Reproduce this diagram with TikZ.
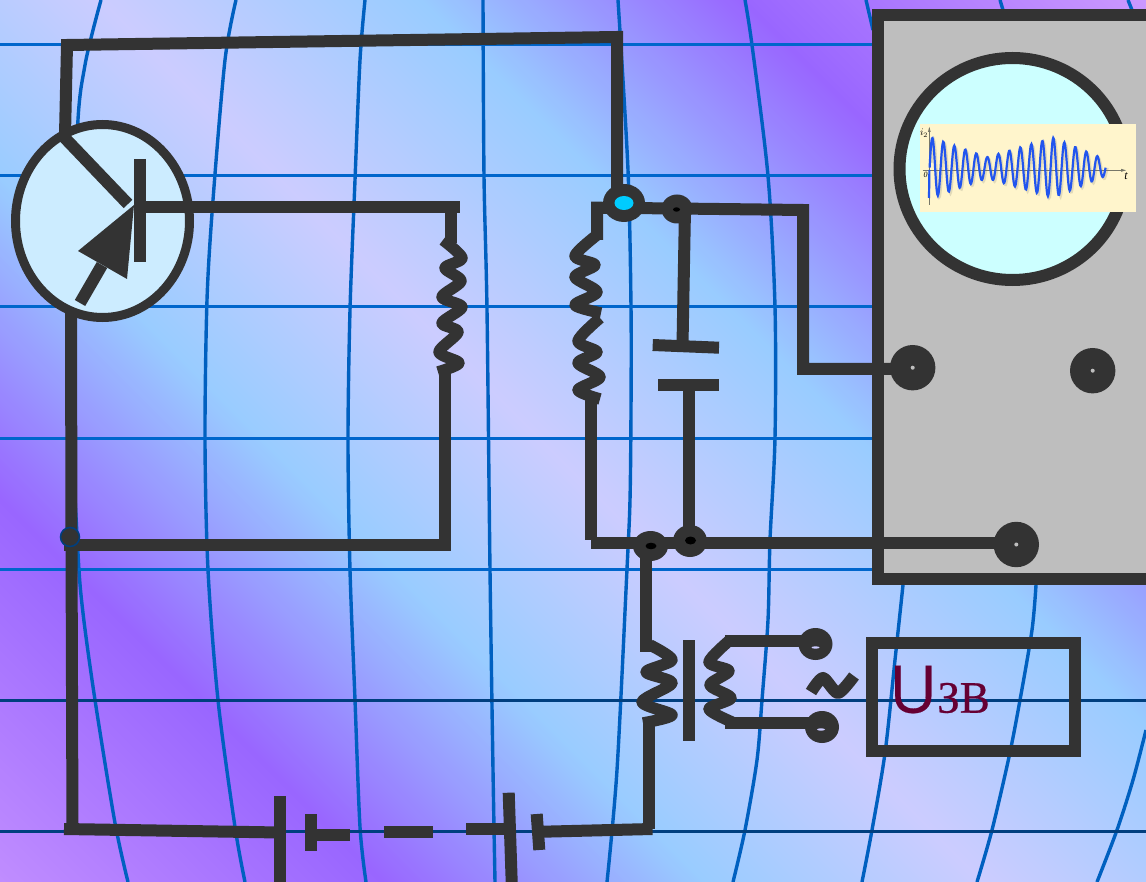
\documentclass[tikz,border=0pt]{standalone}
\usepackage{fontspec}
\setmainfont{Liberation Serif}
\newfontfamily\ufont[FakeBold=0.25]{Open Sans}
\newfontfamily\zfont[FakeBold=0.5]{Liberation Serif}
\definecolor{ink}{HTML}{333333}
\definecolor{gridblue}{HTML}{0066CC}
\definecolor{griddark}{HTML}{003F7F}
\definecolor{gridmid}{HTML}{0060C0}
\definecolor{bgpink}{HTML}{CC99FF}
\definecolor{bgpurple}{HTML}{9966FF}
\definecolor{bgsky}{HTML}{99CCFF}
\definecolor{bglav}{HTML}{CCCCFF}
\definecolor{panel}{HTML}{BEBEBE}
\definecolor{screen}{HTML}{CCFFFF}
\definecolor{tubefill}{HTML}{CCECFF}
\definecolor{chartbg}{HTML}{FFF5CC}
\definecolor{chartshadow}{HTML}{E2DAB8}
\definecolor{chartaxis}{HTML}{777768}
\definecolor{trace}{HTML}{2255EE}
\definecolor{labelc}{HTML}{660033}
\definecolor{hotcyan}{HTML}{00CCFF}
\newcommand{\bgband}[4]{%
  \pgfmathtruncatemacro\nextu{#1+3}%
  \foreach \u in {#1,\nextu,...,#2}{%
    \pgfmathsetmacro\pct{100*((\u-#1)/(#2-#1))}%
    \fill[#4!\pct!#3] (\u,0) -- ++(5,0) -- ++(882,882) -- ++(-5,0) -- cycle;}}
\tikzset{
  wire/.style={draw=ink,line width=12pt,line cap=butt,line join=miter},
  coilw/.style={draw=ink,line width=11.5pt,line cap=butt,line join=round},
  dot/.style={fill=ink},
  gridh/.style={draw=gridblue,line width=3pt},
  gridd/.style={draw=griddark,line width=3pt},
  gridv/.style={draw=gridmid,line width=3.4pt},
}
\begin{document}
\begin{tikzpicture}[x=1pt,y=-1pt]
\useasboundingbox (0,0) rectangle (1146,882);
\clip (0,0) rectangle (1146,882);
% background
\bgband{-1000}{-500}{bgpink}{bgpurple}
\bgband{-500}{-180}{bgpurple}{bgsky}
\bgband{-180}{100}{bgsky}{bglav}
\bgband{100}{420}{bglav}{bgsky}
\bgband{420}{740}{bgsky}{bgpurple}
\bgband{740}{1150}{bgpurple}{bgpink}
% grid
\draw[gridv] plot[smooth] coordinates {(101,0) (85,65) (77,140) (72,400) (78,553) (83,613) (95,700) (115,823) (128,882)};
\draw[gridv] plot[smooth] coordinates {(236,0) (225,60) (213,200) (207,300) (205,440) (208,570) (218,700) (235,827) (245,882)};
\draw[gridv] plot[smooth] coordinates {(365,0) (360,60) (355,180) (350,310) (348,440) (350,570) (355,700) (360,827) (366,882)};
\draw[gridv] plot[smooth] coordinates {(483,0) (484,176) (487,310) (490,570) (493,770) (495,882)};
\draw[gridv] plot[smooth] coordinates {(618,0) (628,170) (631,307) (631,410) (630,500) (627,569) (617,770) (607,882)};
\draw[gridv] plot[smooth] coordinates {(745,0) (752,45) (768,176) (775,307) (775,438) (770,540) (768,620) (762,700) (757,760) (745,830) (733,882)};
\draw[gridv] plot[smooth] coordinates {(903,585) (895,660) (885,753) (872,830) (862,882)};
\draw[gridv] (866,0) -- (873,30);
\draw[gridv] plot[smooth] coordinates {(1036,585) (1032,630) (1020,700) (1009,757) (992,830) (977,882)};
\draw[gridv] (1000,0) -- (1003,10);
\draw[gridv] plot[smooth] coordinates {(1146,730) (1133,780) (1117,830) (1097,882)};
\draw[gridv] (1128,0) -- (1132,10);
\foreach \y in {45,176,307,438,569} \draw[gridh] (0,\y) -- (1146,\y);
\foreach \y in {700,831} \draw[gridd] (0,\y) -- (1146,\y);

% oscilloscope
\draw[wire,fill=panel] (878,15.5) rectangle (1155,579);
\draw[draw=ink,line width=12pt,fill=screen] (1012.5,169) ellipse [x radius=113,y radius=111];
\fill[chartbg] (920,124) rectangle (1136,212);
% chart
\draw[chartshadow,line width=2.2pt] plot[smooth,domain=930:1106,samples=300] ({\x+1.6},{169.7-(\x<987?30-(\x-932)*19.5/55:(\x<1053?10.5+(\x-987)*19.5/66:30-(\x-1053)*22/53))*sin(32.72727*(\x-929.6))});
\draw[chartaxis,line width=.7pt] (922.7,170.3) -- (1124,170.3);
\draw[chartaxis,line width=.7pt] (929.3,205) -- (929.3,128);
\fill[chartaxis] (1126,170.3) -- (1121,168.8) -- (1121,171.8) -- cycle;
\fill[chartaxis] (929.3,127) -- (927.9,132) -- (930.7,132) -- cycle;
\draw[trace,line width=2.2pt] (929,198) -- (929.4,170) plot[smooth,domain=929.6:1105.6,samples=300] (\x,{167.7-(\x<987?30-(\x-932)*19.5/55:(\x<1053?10.5+(\x-987)*19.5/66:30-(\x-1053)*22/53))*sin(32.72727*(\x-929.6))});
\node[inner sep=0,font=\fontsize{10}{11}\selectfont] (chartI) at (924,133) {$i_2$};
\node[inner sep=0,font=\fontsize{8}{9}\selectfont\itshape] (chartZero) at (925.5,175) {0};
\node[inner sep=0,font=\fontsize{12}{13}\selectfont\itshape] (chartT) at (1126,176) {t};

% junction coordinates
\coordinate (tc) at (624,203);
\coordinate (tr) at (677,209);
\coordinate (bl) at (650.5,546);
\coordinate (br) at (690,541);
\coordinate (k1) at (912.7,367.7);
\coordinate (k1w) at (912.7,369);
\coordinate (k2) at (1092.7,370.7);
\coordinate (k3) at (1016.3,544.5);
\coordinate (k3w) at (1016.3,543);
\coordinate (ta) at (815.5,640.7);
\coordinate (tb) at (822,722.7);

% wires
\draw[wire] (65,135) -- (67,45) -- (617,37) -- (617,195);
\draw[wire] (71,312) -- (71.5,540) -- (72.5,832);
\draw[wire] (64,829) -- (280,832.5);
\draw[wire] (64,545) -- (451,545);
\draw[wire] (134,207) -- (460,207);
\draw[wire] (451,207) -- (451,243);
\draw[wire] (445,368) -- (445,539);
\draw[wire] (597,240) -- (597,207.7) -- (677,208.5) -- (803,210) -- (803,369) -- (k1w);
\draw[wire] (591,400) -- (591,540);
\draw[wire] (591,543) -- (k3w);
\draw[wire] (685,209) -- (682.5,345);
\draw[wire] (689,385) -- (689,541);
\draw[wire] (646,546) -- (646,652);
\draw[wire] (649,720) -- (649,829);
\draw[wire] (311,835) -- (350,835);
\draw[wire] (384,832) -- (433,832);
\draw[wire] (466,829) -- (509,829);
\draw[wire] (543,831.7) -- (652.5,829);
\draw[wire] (725,640.7) -- (ta);
\draw[wire] (725,722.7) -- (tb);
% plates
\draw[wire] (280,796) -- (280,882);
\draw[wire] (311,814) -- (311,851);
\draw[wire] (508.7,792.7) -- (511.7,882);
\draw[wire] (536.7,814) -- (539.3,850);
\draw[wire] (652.7,345) -- (719,347.7);
\draw[wire] (658,384.8) -- (719,384.8);
\draw[wire] (688.7,640) -- (688.7,741);
% coils
\draw[coilw] plot[smooth] coordinates {(443,240) (462,258) (445,268) (461,281) (442,297) (462,307) (442,323) (458,332) (439,352) (459,363) (438,372)};
\draw[coilw] plot[smooth] coordinates {(597,235) (575,256) (595,265) (575,277) (597,292) (575,305) (601,313)};
\draw[coilw] plot[smooth] coordinates {(600,318) (578,341) (597,352) (578,363) (600,377) (578,390) (600,399)};
\draw[coilw] plot[smooth] coordinates {(650,645) (672,660) (646,672) (672,683) (642,702) (672,715) (643,723)};
\draw[coilw] plot[smooth] coordinates {(730,640) (709,662) (729,671) (710,685) (731,698) (709,709) (732,722)};
\draw[coilw,line width=12pt] plot[smooth,tension=.45] coordinates {(811,692) (823,678) (838,693) (854,676)};

% transistor
\draw[draw=ink,line width=9pt,fill=tubefill] (102.5,221) ellipse [x radius=87,y radius=96.5];
\draw[wire] (62,135) -- (128,204);
\draw[wire] (140,159) -- (140,262);
\draw[wire] (134,207) -- (190,207);
\fill[ink] (134,205) -- (78,251) -- (127,279) -- cycle;
\draw[wire] (80,303) -- (102,265);

% junction dots
\path[dot] (tc) ellipse [x radius=21,y radius=19];
\fill[hotcyan] (tc) ellipse [x radius=9.5,y radius=7];
\path[dot] (tr) ellipse [x radius=15.5,y radius=14.5];
\fill[black] (676.5,209.5) ellipse [x radius=3.5,y radius=2.2];
\path[dot] (bl) ellipse [x radius=17.5,y radius=15];
\fill[black] (651,546) ellipse [x radius=5.5,y radius=3.3];
\path[dot] (br) ellipse [x radius=17,y radius=16];
\fill[black] (690.5,540.5) ellipse [x radius=5.5,y radius=4];
\draw[griddark,line width=1.5pt,fill=ink] (70,537) circle [radius=9.5];
% scope knobs
\foreach \k in {k1,k2,k3}{
  \path[dot] (\k) circle [radius=22.7];
  \fill[panel] (\k) circle [radius=2];}
% terminals
\path[dot] (815.5,644) ellipse [x radius=17,y radius=16];
\fill[bglav] (815.5,647.5) ellipse [x radius=4,y radius=1.2];
\path[dot] (822,727) ellipse [x radius=17,y radius=16];
\fill[bglav] (821,729.5) ellipse [x radius=4,y radius=1.2];
% label box
\draw[wire] (871.5,643) rectangle (1075,751);
\node[anchor=base west,inner sep=0,text=labelc] (lbl) at (889,712.7) {{\ufont\fontsize{66}{70}\selectfont U}{\zfont\fontsize{45}{48}\selectfont ЗВ}};
\end{tikzpicture}
\end{document}
